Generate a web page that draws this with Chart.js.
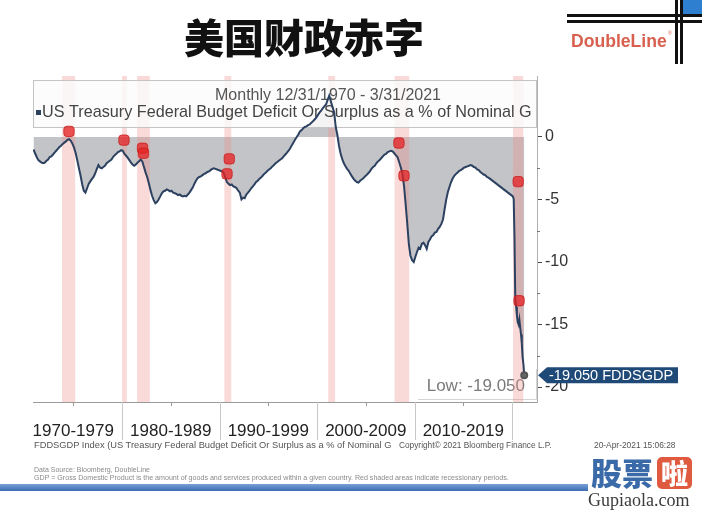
<!DOCTYPE html>
<html>
<head>
<meta charset="utf-8">
<script src="https://cdn.jsdelivr.net/npm/chart.js@4.4.1/dist/chart.umd.min.js"></script>
<style>
body{margin:0;background:#fff;}
#wrap{position:relative;width:706px;height:512px;overflow:hidden;font-family:"Liberation Sans",Arial,sans-serif;}
#chart{position:absolute;left:0;top:0;}
.abs{position:absolute;white-space:pre;}
.bar{position:absolute;background:#111;}
</style>
</head>
<body>
<div id="wrap">
<canvas id="chart" width="706" height="512"></canvas>

<div class="abs" style="left:184px;top:16px;font:900 40px/40px 'Noto Sans CJK SC';color:#111;">美国财政赤字</div>

<div class="bar" style="left:567px;top:14px;width:135px;height:2.5px"></div>
<div class="bar" style="left:567px;top:20px;width:135px;height:2.5px"></div>
<div class="bar" style="left:675px;top:0;width:3px;height:64px"></div>
<div class="bar" style="left:680px;top:0;width:3px;height:64px"></div>
<div class="abs" style="left:683px;top:0;width:19px;height:14px;background:#2f7fd1"></div>
<div class="abs" style="left:571px;top:33px;font:bold 17.6px/17px 'Liberation Sans';color:#d8604f">DoubleLine</div>
<div class="abs" style="left:668px;top:31px;font:5px/5px 'Liberation Sans';color:#d8604f">®</div>

<div class="abs" style="left:34px;top:440px;font:9.3px/10px 'Liberation Sans';color:#555">FDDSGDP Index (US Treasury Federal Budget Deficit Or Surplus as a % of Nominal G</div>
<div class="abs" style="left:399px;top:440px;font:8.3px/10px 'Liberation Sans';color:#555">Copyright© 2021 Bloomberg Finance L.P.</div>
<div class="abs" style="left:594px;top:440px;font:8.4px/10px 'Liberation Sans';color:#555">20-Apr-2021 15:06:28</div>
<div class="abs" style="left:34px;top:466px;font:7px/7px 'Liberation Sans';color:#8a8a8a">Data Source: Bloomberg, DoubleLine</div>
<div class="abs" style="left:34px;top:475px;font:7.1px/7px 'Liberation Sans';color:#8a8a8a">GDP = Gross Domestic Product is the amount of goods and services produced within a given country. Red shaded areas indicate recessionary periods.</div>
<div class="abs" style="left:0;top:484px;width:588px;height:7px;background:linear-gradient(#7aa0d8,#3a6cb2)"></div>

<div class="abs" style="left:591px;top:455px;font:900 31px/33px 'Noto Sans CJK SC';color:#3a6aa8">股票</div>
<div class="abs" style="left:657px;top:457px;width:35px;height:32px;border-radius:5px;background:#df5a3e;color:#fff;font:900 27px/32px 'Noto Sans CJK SC';text-align:center">啦</div>
<div class="abs" style="left:588px;top:491px;font:18px/19px 'Liberation Serif';color:#3b3b3b">Gupiaola.com</div>
</div>

<script>

// FDDSGDP, monthly 12/31/1970 - 3/31/2021
const years = [
1970.92,1971.08,1971.25,1971.42,1971.58,1971.75,1971.92,1972.08,1972.25,1972.42,1972.58,1972.75,1972.92,
1973.08,1973.25,1973.42,1973.58,1973.75,1973.92,1974.08,1974.25,1974.42,1974.58,1974.75,1974.92,
1975.08,1975.25,1975.42,1975.58,1975.75,1975.92,1976.08,1976.25,1976.42,1976.58,1976.75,1976.92,
1977.08,1977.25,1977.42,1977.58,1977.75,1977.92,1978.08,1978.25,1978.42,1978.58,1978.75,1978.92,
1979.08,1979.25,1979.42,1979.58,1979.75,1979.92,1980.08,1980.25,1980.42,1980.58,1980.75,1980.92,
1981.08,1981.25,1981.42,1981.58,1981.75,1981.92,1982.08,1982.25,1982.42,1982.58,1982.75,1982.92,
1983.08,1983.25,1983.42,1983.58,1983.75,1983.92,1984.08,1984.25,1984.42,1984.58,1984.75,1984.92,
1985.08,1985.25,1985.42,1985.58,1985.75,1985.92,1986.08,1986.25,1986.42,1986.58,1986.75,1986.92,
1987.08,1987.25,1987.42,1987.58,1987.75,1987.92,1988.08,1988.25,1988.42,1988.58,1988.75,1988.92,
1989.08,1989.25,1989.42,1989.58,1989.75,1989.92,1990.08,1990.25,1990.42,1990.58,1990.75,1990.92,
1991.08,1991.25,1991.42,1991.58,1991.75,1991.92,1992.08,1992.25,1992.42,1992.58,1992.75,1992.92,
1993.08,1993.25,1993.42,1993.58,1993.75,1993.92,1994.08,1994.25,1994.42,1994.58,1994.75,1994.92,
1995.08,1995.25,1995.42,1995.58,1995.75,1995.92,1996.08,1996.25,1996.42,1996.58,1996.75,1996.92,
1997.08,1997.25,1997.42,1997.58,1997.75,1997.92,1998.08,1998.25,1998.42,1998.58,1998.75,1998.92,
1999.08,1999.25,1999.42,1999.58,1999.75,1999.92,2000.08,2000.25,2000.42,2000.58,2000.75,2000.92,
2001.08,2001.25,2001.42,2001.58,2001.75,2001.92,2002.08,2002.25,2002.42,2002.58,2002.75,2002.92,
2003.08,2003.25,2003.42,2003.58,2003.75,2003.92,2004.08,2004.25,2004.42,2004.58,2004.75,2004.92,
2005.08,2005.25,2005.42,2005.58,2005.75,2005.92,2006.08,2006.25,2006.42,2006.58,2006.75,2006.92,
2007.08,2007.25,2007.42,2007.58,2007.75,2007.92,2008.08,2008.25,2008.42,2008.58,2008.75,2008.92,
2009.08,2009.25,2009.42,2009.58,2009.75,2009.92,2010.08,2010.25,2010.42,2010.58,2010.75,2010.92,
2011.08,2011.25,2011.42,2011.58,2011.75,2011.92,2012.08,2012.25,2012.42,2012.58,2012.75,2012.92,
2013.08,2013.25,2013.42,2013.58,2013.75,2013.92,2014.08,2014.25,2014.42,2014.58,2014.75,2014.92,
2015.08,2015.25,2015.42,2015.58,2015.75,2015.92,2016.08,2016.25,2016.42,2016.58,2016.75,2016.92,
2017.08,2017.25,2017.42,2017.58,2017.75,2017.92,2018.08,2018.25,2018.42,2018.58,2018.75,2018.92,
2019.08,2019.25,2019.42,2019.58,2019.75,2019.92,2020.08,2020.17,2020.25,2020.33,2020.42,2020.50,
2020.58,2020.67,2020.75,2020.83,2020.92,2021.00,2021.08,2021.17,2021.25
];

const deficit = [
-1.00,-1.30,-1.60,-1.85,-1.95,-2.05,-2.10,-2.05,-1.90,-1.80,-1.60,-1.55,-1.40,
-1.25,-1.10,-0.95,-0.80,-0.70,-0.55,-0.45,-0.35,-0.22,-0.18,-0.30,-0.55,
-0.85,-1.30,-1.90,-2.50,-3.10,-3.80,-4.30,-4.45,-4.10,-3.75,-3.55,-3.35,
-3.20,-2.90,-2.55,-2.25,-2.45,-2.50,-2.40,-2.30,-2.10,-2.00,-1.90,-1.80,
-1.60,-1.45,-1.35,-1.20,-1.15,-1.05,-1.10,-1.35,-1.50,-1.65,-1.85,-2.05,
-2.20,-2.30,-2.20,-2.05,-1.95,-1.80,-1.95,-2.40,-2.85,-3.20,-3.70,-4.25,
-4.70,-5.05,-5.30,-5.20,-5.00,-4.75,-4.50,-4.35,-4.30,-4.20,-4.25,-4.35,
-4.30,-4.45,-4.50,-4.55,-4.65,-4.60,-4.70,-4.75,-4.70,-4.75,-4.60,-4.45,
-4.25,-4.05,-3.75,-3.50,-3.30,-3.20,-3.15,-3.05,-2.95,-2.90,-2.80,-2.75,
-2.65,-2.55,-2.50,-2.55,-2.60,-2.65,-2.70,-2.75,-2.85,-3.20,-3.60,-3.75,
-3.85,-3.80,-3.95,-4.00,-4.10,-4.30,-4.45,-5.00,-4.85,-4.90,-4.60,-4.45,
-4.30,-4.10,-3.95,-3.80,-3.60,-3.50,-3.35,-3.25,-3.10,-2.95,-2.85,-2.70,
-2.60,-2.50,-2.35,-2.25,-2.10,-2.00,-1.90,-1.80,-1.70,-1.55,-1.40,-1.25,
-1.10,-0.90,-0.65,-0.45,-0.20,0.00,0.20,0.45,0.55,0.70,0.80,0.85,
0.95,1.00,1.15,1.25,1.40,1.55,1.75,1.95,2.10,2.30,2.45,2.60,
2.95,3.30,2.85,2.40,2.00,0.80,0.20,-0.70,-1.35,-1.75,-2.10,-2.35,
-2.55,-2.70,-2.95,-3.15,-3.35,-3.50,-3.60,-3.65,-3.50,-3.40,-3.30,-3.15,
-3.05,-2.90,-2.75,-2.55,-2.40,-2.30,-2.10,-1.95,-1.85,-1.70,-1.55,-1.40,
-1.35,-1.20,-1.15,-1.10,-1.15,-1.30,-1.45,-1.60,-2.00,-2.40,-2.90,-3.90,
-5.30,-6.90,-8.60,-9.50,-9.85,-10.00,-9.60,-9.20,-8.85,-8.95,-8.55,-8.45,
-8.65,-8.95,-8.40,-8.20,-7.95,-7.85,-7.65,-7.60,-7.35,-7.20,-6.95,-6.60,
-5.80,-5.00,-4.40,-4.00,-3.60,-3.30,-3.10,-2.95,-2.85,-2.70,-2.65,-2.55,
-2.45,-2.40,-2.35,-2.30,-2.25,-2.30,-2.40,-2.45,-2.60,-2.65,-2.80,-2.90,
-3.00,-3.05,-3.20,-3.25,-3.35,-3.45,-3.55,-3.65,-3.75,-3.85,-3.95,-4.05,
-4.15,-4.25,-4.35,-4.45,-4.55,-4.65,-4.75,-4.95,-8.00,-12.90,-13.60,-14.30,
-14.80,-15.00,-14.60,-15.20,-15.80,-16.50,-17.60,-18.20,-19.05
];

// recessions (shaded)
const recessionStart = [1973.85, 1980.0, 1981.55, 1990.5, 2001.15, 2007.95, 2020.1];
const recessionEnd   = [1975.2, 1980.5, 1982.85, 1991.2, 2001.85, 2009.45, 2021.15];

// red event markers
const markerYears  = [1974.56, 1980.2, 1982.1, 1982.2, 1991.0, 1990.77, 2008.4, 2008.92, 2020.63, 2020.72];
const markerValues = [0.45, -0.25, -0.9, -1.3, -1.75, -2.95, -0.48, -3.1, -3.57, -13.1];

const decadeStarts = [1970, 1980, 1990, 2000, 2010, 2020];
const decadeLabels = ["1970-1979", "1980-1989", "1990-1999", "2000-2009", "2010-2019"];
const minorYTicks = [-2.5, -7.5, -12.5, -17.5];

const legendTitle = "Monthly 12/31/1970 - 3/31/2021";
const seriesName = "US Treasury Federal Budget Deficit Or Surplus as a % of Nominal G";
const ticker = "FDDSGDP";

Chart.defaults.font.family = '"Liberation Sans", Arial, sans-serif';

const points = years.map((x, i) => ({x, y: deficit[i]}));
const markers = markerYears.map((x, i) => ({x, y: markerValues[i]}));
const last = deficit.length - 1;

const decor = {
  id: "decor",

  // fill is dataset 0: put the bands, legend box and low box on it, under the line
  afterDatasetDraw(chart, args){
    if(args.index !== 0) return;
    const {ctx, chartArea: a, scales: {x, y}} = chart;
    ctx.save();

    // low box
    ctx.fillStyle = "rgba(255,255,255,0.92)";
    ctx.fillRect(418, 369, a.right - 418, 30);
    ctx.strokeStyle = "#d4d4d4";
    ctx.beginPath();
    ctx.moveTo(a.right - 0.5, 369); ctx.lineTo(a.right - 0.5, 399.5); ctx.lineTo(418, 399.5);
    ctx.stroke();
    ctx.fillStyle = "#7a7a7a";
    ctx.font = '17px "Liberation Sans"';
    ctx.textAlign = "right";
    ctx.textBaseline = "middle";
    ctx.fillText("Low: " + Math.min(...deficit).toFixed(3), 525, 386);

    // recession bands
    ctx.fillStyle = "rgba(240,140,140,0.33)";
    recessionStart.forEach((s, i)=>{
      const x0 = x.getPixelForValue(s);
      const x1 = x.getPixelForValue(recessionEnd[i]);
      ctx.fillRect(x0, a.top, x1 - x0, a.bottom - a.top);
    });

    // legend box
    ctx.fillStyle = "rgba(252,252,252,0.86)";
    ctx.fillRect(a.left, 80, a.right - a.left, 48);
    ctx.strokeStyle = "#c4c4c4";
    ctx.strokeRect(a.left + 0.5, 80.5, a.right - a.left - 1, 47);

    ctx.fillStyle = "#555";
    ctx.font = '16px "Liberation Sans"';
    ctx.textAlign = "center";
    ctx.fillText(legendTitle, 328, 96);

    ctx.save();
    ctx.beginPath();
    ctx.rect(a.left, 80, a.right - a.left - 2, 48);
    ctx.clip();
    ctx.fillStyle = "#2c4160";
    ctx.fillRect(36, 110, 5, 5);
    ctx.fillStyle = "#444";
    ctx.textAlign = "left";
    ctx.font = '16.2px "Liberation Sans"';
    ctx.fillText(seriesName, 42, 113);
    ctx.restore();

    ctx.restore();
  },

  afterDraw(chart){
    const {ctx, chartArea: a, scales: {x, y}} = chart;
    ctx.save();

    // x axis
    ctx.strokeStyle = "#9a9a9a";
    ctx.lineWidth = 1;
    ctx.beginPath();
    ctx.moveTo(a.left, a.bottom + 0.5);
    ctx.lineTo(a.right, a.bottom + 0.5);
    ctx.stroke();

    ctx.strokeStyle = "#c8c8c8";
    decadeStarts.slice(1).forEach(d=>{
      const px = Math.round(x.getPixelForValue(d)) + 0.5;
      ctx.beginPath();
      ctx.moveTo(px, a.bottom);
      ctx.lineTo(px, a.bottom + 38);
      ctx.stroke();
    });

    ctx.strokeStyle = "#999";
    decadeStarts.slice(0, 5).forEach(d=>{
      const px = Math.round(x.getPixelForValue(d + 5)) + 0.5;
      ctx.beginPath();
      ctx.moveTo(px, a.bottom);
      ctx.lineTo(px, a.bottom + 4);
      ctx.stroke();
    });

    ctx.fillStyle = "#222";
    ctx.font = '17px "Liberation Sans"';
    ctx.textAlign = "center";
    ctx.textBaseline = "middle";
    decadeLabels.forEach((lab, i)=>{
      ctx.fillText(lab, x.getPixelForValue(decadeStarts[i] + 5), a.bottom + 29);
    });

    // minor y ticks
    ctx.strokeStyle = "#777";
    minorYTicks.forEach(v=>{
      const py = Math.round(y.getPixelForValue(v)) + 0.5;
      ctx.beginPath();
      ctx.moveTo(a.right, py);
      ctx.lineTo(a.right + 3, py);
      ctx.stroke();
    });

    // last value tag
    const ly = y.getPixelForValue(deficit[last]);
    const tx = a.right + 1;
    ctx.fillStyle = "#1f4a78";
    ctx.beginPath();
    ctx.moveTo(tx, ly);
    ctx.lineTo(tx + 9, ly - 8);
    ctx.lineTo(tx + 140, ly - 8);
    ctx.lineTo(tx + 140, ly + 8);
    ctx.lineTo(tx + 9, ly + 8);
    ctx.closePath();
    ctx.fill();
    ctx.fillStyle = "#fff";
    ctx.font = '14.5px "Liberation Sans"';
    ctx.textAlign = "left";
    ctx.fillText(deficit[last].toFixed(3) + " " + ticker, tx + 11, ly + 1);

    ctx.restore();
  }
};

new Chart(document.getElementById("chart"), {
  type: "line",
  data: {
    datasets: [{
      label: "fill",
      data: points,
      order: 2,
      borderWidth: 0,
      pointRadius: 0,
      fill: "origin",
      backgroundColor: "#c3c4c7"
    },{
      label: seriesName,
      data: points,
      order: 1,
      borderColor: "#2c4160",
      borderWidth: 2,
      fill: false,
      pointRadius: ctx => ctx.dataIndex === last ? 3 : 0,
      pointBackgroundColor: "#666",
      pointBorderColor: "#555",
      tension: 0
    },{
      label: "events",
      data: markers,
      order: 0,
      showLine: false,
      pointStyle: "rectRounded",
      pointRadius: 6,
      backgroundColor: "rgba(228,35,35,0.75)",
      borderColor: "rgba(200,30,30,0.8)",
      borderWidth: 1
    }]
  },
  options: {
    responsive: false,
    animation: false,
    devicePixelRatio: 1,
    layout: {
      padding: {left: 33, top: 76, right: 0, bottom: 110}
    },
    plugins: {
      legend: {display: false},
      tooltip: {enabled: false}
    },
    scales: {
      x: {
        type: "linear",
        min: 1970.87,
        max: 2022.56,
        display: false
      },
      y: {
        position: "right",
        min: -21.2,
        max: 4.88,
        afterFit: s => { s.width = 169; },
        border: {color: "#b0b0b0"},
        grid: {drawOnChartArea: false, tickLength: 5, color: "#444"},
        ticks: {
          stepSize: 5,
          includeBounds: false,
          padding: 3,
          color: "#333",
          font: {size: 16}
        }
      }
    }
  },
  plugins: [decor]
});

</script>
</body>
</html>
